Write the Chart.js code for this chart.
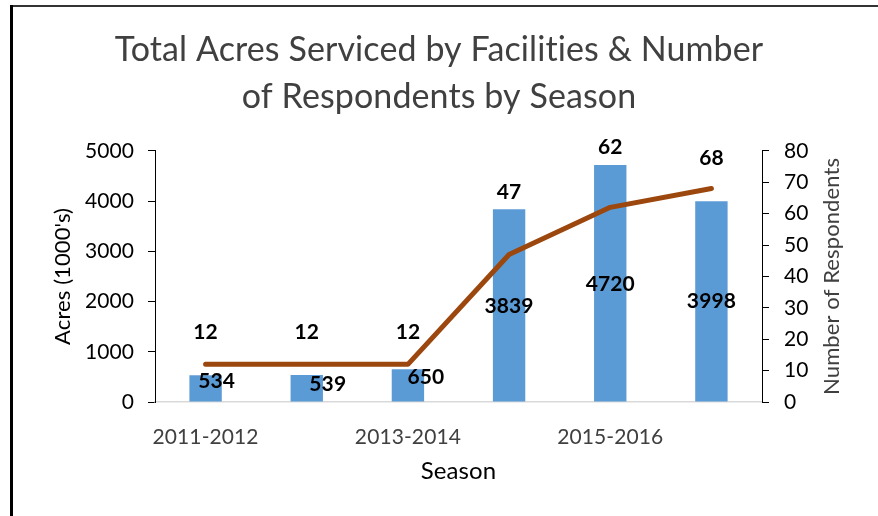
<!DOCTYPE html>
<html>
<head>
<meta charset="utf-8">
<script src="https://cdn.jsdelivr.net/npm/chart.js@4.4.1/dist/chart.umd.min.js"></script>
<style>
  html, body { margin: 0; padding: 0; background: #fff; }
  #wrap { position: relative; width: 878px; height: 516px; }
</style>
</head>
<body>
<div id="wrap"><canvas id="acres-chart" width="878" height="516"></canvas></div>
<script>
var seasons = ['2011-2012', '2012-2013', '2013-2014', '2014-2015', '2015-2016', '2016-2017'];
var acres = [534, 539, 650, 3839, 4720, 3998];
var respondents = [12, 12, 12, 47, 62, 68];

// where Excel's labels were nudged by hand (pixels)
var barLabelDx = [11, 21, 18, 0, 0, 0];
var barLabelDy = [-7, -4, -8, 1, 1, 0];
var lineLabelDy = [-32, -32, -32, -62, -60, -30];

Chart.defaults.font.family = 'Lato';

// white page and the two visible edges of the chart frame
const framePlugin = {
    id: 'frame',
    beforeDraw(chart) {
        const c = chart.ctx;
        // a tiny letter spacing stops Lato's "ti" ligature
        c.letterSpacing = '0.1px';
        c.save();
        c.fillStyle = '#fff';
        c.fillRect(0, 0, chart.width, chart.height);
        c.fillStyle = '#333';
        c.fillRect(10, 5, chart.width - 10, 2);
        c.fillStyle = '#000';
        c.fillRect(10, 5, 3, chart.height - 5);
        c.restore();
    }
};

const labelPlugin = {
    id: 'valueLabels',
    afterDatasetsDraw(chart) {
        const c = chart.ctx;
        c.save();
        c.font = 'bold 21px Lato';
        c.fillStyle = '#000';
        c.textAlign = 'center';
        c.textBaseline = 'middle';
        chart.getDatasetMeta(1).data.forEach(function(bar, i) {
            const y = (bar.y + bar.base) / 2;
            c.fillText(acres[i], bar.x + barLabelDx[i], y + barLabelDy[i]);
        });
        chart.getDatasetMeta(0).data.forEach(function(pt, i) {
            c.fillText(respondents[i], pt.x, pt.y + lineLabelDy[i]);
        });

        // right axis title reads bottom-to-top, like Excel's
        const area = chart.chartArea;
        c.font = '22px Lato';
        c.fillStyle = '#404040';
        c.translate(832, (area.top + area.bottom) / 2);
        c.rotate(-Math.PI / 2);
        c.fillText('Number of Respondents', 0, 0);
        c.restore();
    }
};

const ctx = document.getElementById('acres-chart');

var acresChart = new Chart(ctx, {
    data: {
        labels: seasons,
        datasets: [{
            type: 'line',
            label: 'Number of Respondents',
            data: respondents,
            yAxisID: 'y1',
            borderColor: '#9C470E',
            borderWidth: 5,
            borderCapStyle: 'round',
            borderJoinStyle: 'round',
            pointRadius: 0,
            tension: 0,
            order: 0
        }, {
            type: 'bar',
            label: 'Acres',
            data: acres,
            yAxisID: 'y',
            backgroundColor: '#5B9BD5',
            barPercentage: 0.32,
            categoryPercentage: 1,
            order: 1
        }]
    },
    options: {
        responsive: false,
        animation: false,
        layout: { padding: 0 },
        plugins: {
            legend: { display: false },
            tooltip: { enabled: false },
            title: {
                display: true,
                text: ['Total Acres Serviced by Facilities & Number', 'of Respondents by Season'],
                color: '#404040',
                font: { size: 34, weight: 'normal', lineHeight: 1.38 },
                padding: { top: 27, bottom: 30 }
            }
        },
        scales: {
            x: {
                afterFit(scale) { scale.height = 114; },
                grid: { display: false },
                border: { color: '#d9d9d9', width: 1.5 },
                ticks: {
                    autoSkip: false,
                    maxRotation: 0,
                    color: '#404040',
                    font: { size: 21 },
                    padding: 15,
                    callback: function(v, i) { return i % 2 === 0 ? seasons[i] : ''; }
                },
                title: {
                    display: true,
                    text: 'Season',
                    color: '#000',
                    font: { size: 24 },
                    padding: { top: 0, bottom: 30 }
                }
            },
            y: {
                position: 'left',
                min: 0,
                max: 5000,
                afterFit(scale) { scale.width = 155; },
                grid: { drawOnChartArea: false, color: '#000', tickLength: 7 },
                border: { color: '#000', width: 1 },
                ticks: {
                    stepSize: 1000,
                    color: '#000',
                    font: { size: 21 },
                    padding: 14,
                    callback: function(v) { return String(v); }
                },
                title: {
                    display: true,
                    text: "Acres (1000's)",
                    color: '#000',
                    font: { size: 22 },
                    padding: { top: 50, bottom: 0 }
                }
            },
            y1: {
                position: 'right',
                min: 0,
                max: 80,
                afterFit(scale) { scale.width = 116; },
                grid: { drawOnChartArea: false, color: '#000', tickLength: 7 },
                border: { color: '#000', width: 1 },
                ticks: { stepSize: 10, color: '#000', font: { size: 21 }, padding: 15 }
            }
        }
    },
    plugins: [framePlugin, labelPlugin]
});
</script>
</body>
</html>
